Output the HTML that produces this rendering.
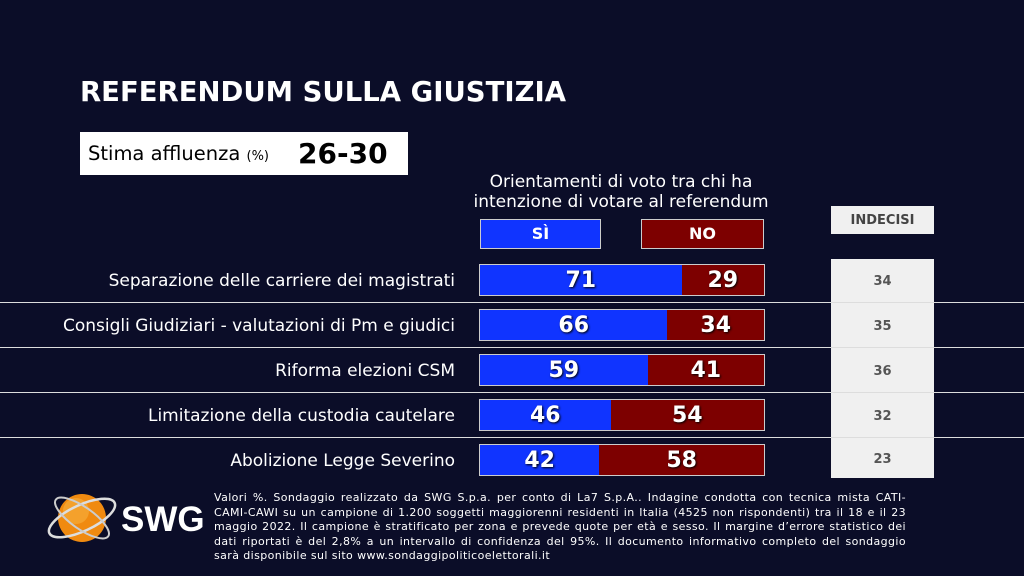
<!DOCTYPE html><html><head><meta charset="utf-8"><style>
body{margin:0;width:1024px;height:576px;background:#0b0d28;position:relative;overflow:hidden;font-family:"DejaVu Sans","Liberation Sans",sans-serif;color:#fff}
.a{position:absolute}
.t{left:80px;top:76px;font:bold 27.5px "DejaVu Sans",sans-serif;white-space:nowrap}
.box{left:80px;top:132px;width:328px;height:43px;background:#fff;color:#000}
.lab{right:569px;font-size:17px;text-align:right;white-space:nowrap}
.bar{left:480px;width:284px;height:30px;display:flex;outline:1px solid #ccc}
.bar div{display:flex;align-items:center;justify-content:center;font:bold 22px "DejaVu Sans",sans-serif;text-shadow:1px 1px 2px #000}
.s{background:#1034ff}.n{background:#7d0000}
.ln{left:0;width:1024px;height:1px;background:#ddd}
.ind{left:831px;width:103px;text-align:center;font:bold 13px "DejaVu Sans",sans-serif;color:#555}
</style></head><body>
<div class="a t">REFERENDUM SULLA GIUSTIZIA</div>
<div class="a box"><span class="a" style="left:8px;top:10px;font-size:19.5px;white-space:nowrap">Stima affluenza <span style="font-size:13px">(%)</span></span><span class="a" style="left:218px;top:5px;font:bold 28px 'DejaVu Sans',sans-serif">26-30</span></div>
<div class="a" style="left:440px;width:362px;top:172px;text-align:center;font-size:17px;line-height:20px">Orientamenti di voto tra chi ha<br>intenzione di votare al referendum</div>
<div class="a s" style="left:480px;top:219px;width:121px;height:30px;border:1px solid #ccc;box-sizing:border-box;text-align:center;font:bold 16px 'DejaVu Sans';line-height:28px">SÌ</div>
<div class="a n" style="left:641px;top:219px;width:123px;height:30px;border:1px solid #ccc;box-sizing:border-box;text-align:center;font:bold 16px 'DejaVu Sans';line-height:28px">NO</div>
<div class="a" style="left:831px;top:206px;width:103px;height:28px;background:#f0f0f0;color:#444;text-align:center;font:bold 13px 'DejaVu Sans';line-height:29px">INDECISI</div>
<div class="a" style="left:831px;top:259px;width:103px;height:219px;background:#f0f0f0"></div>
<div class="a ln" style="top:302px"></div><div class="a ln" style="top:347px"></div><div class="a ln" style="top:392px"></div><div class="a ln" style="top:437px"></div>

<div class="a lab" style="top:271px">Separazione delle carriere dei magistrati</div>
<div class="a bar" style="top:265px"><div class="s" style="width:71%">71</div><div class="n" style="width:29%">29</div></div>
<div class="a ind" style="top:274px">34</div>

<div class="a lab" style="top:316px">Consigli Giudiziari - valutazioni di Pm e giudici</div>
<div class="a bar" style="top:310px"><div class="s" style="width:66%">66</div><div class="n" style="width:34%">34</div></div>
<div class="a ind" style="top:319px">35</div>

<div class="a lab" style="top:361px">Riforma elezioni CSM</div>
<div class="a bar" style="top:355px"><div class="s" style="width:59%">59</div><div class="n" style="width:41%">41</div></div>
<div class="a ind" style="top:364px">36</div>

<div class="a lab" style="top:406px">Limitazione della custodia cautelare</div>
<div class="a bar" style="top:400px"><div class="s" style="width:46%">46</div><div class="n" style="width:54%">54</div></div>
<div class="a ind" style="top:409px">32</div>

<div class="a lab" style="top:451px">Abolizione Legge Severino</div>
<div class="a bar" style="top:445px"><div class="s" style="width:42%">42</div><div class="n" style="width:58%">58</div></div>
<div class="a ind" style="top:452px">23</div>

<svg class="a" style="left:42px;top:486px" width="82" height="66" viewBox="0 0 82 66">
<circle cx="40" cy="32" r="24" fill="#f08a10"/><circle cx="34" cy="25" r="13" fill="#f7b040" opacity=".6"/>
<ellipse cx="40" cy="32" rx="36" ry="13" fill="none" stroke="#ddd" stroke-width="2.5" transform="rotate(-25 40 32)"/>
<ellipse cx="40" cy="32" rx="32" ry="11" fill="none" stroke="#ccc" stroke-width="2" transform="rotate(35 40 32)"/>
</svg>
<div class="a" style="left:121px;top:500px;font:bold 35px 'Liberation Sans',sans-serif">SWG</div>
<div class="a" style="left:214px;top:491px;width:692px;font-size:11px;letter-spacing:0.4px;line-height:14.6px;text-align:justify">Valori %. Sondaggio realizzato da SWG S.p.a. per conto di La7 S.p.A.. Indagine condotta con tecnica mista CATI-CAMI-CAWI su un campione di 1.200 soggetti maggiorenni residenti in Italia (4525 non rispondenti) tra il 18 e il 23 maggio 2022. Il campione è stratificato per zona e prevede quote per età e sesso. Il margine d’errore statistico dei dati riportati è del 2,8% a un intervallo di confidenza del 95%. Il documento informativo completo del sondaggio sarà disponibile sul sito www.sondaggipoliticoelettorali.it</div>
</body></html>
